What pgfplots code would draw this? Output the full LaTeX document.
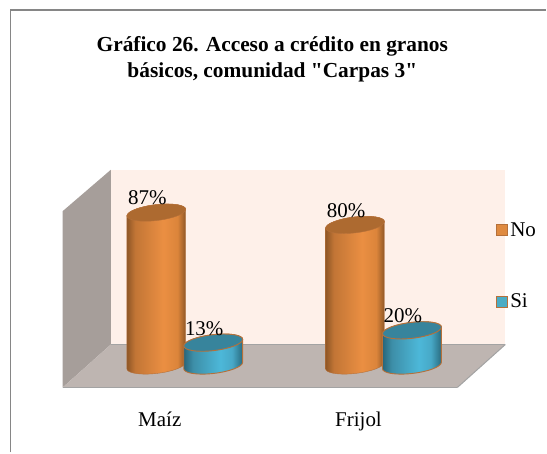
\documentclass[border=0pt]{standalone}
\usepackage{pgfplots}
\pgfplotsset{compat=1.18}
\usepackage{fontspec}
\setmainfont{Liberation Serif}
\newfontfamily\titlefont{Liberation Serif}
\definecolor{wallback}{HTML}{FEF0E9}
\definecolor{wallside}{HTML}{A69E9A}
\definecolor{floorc}{HTML}{BEB5B1}
\definecolor{edgec}{HTML}{A3A3A3}
\definecolor{framec}{HTML}{868686}
\definecolor{brownedge}{HTML}{B5703A}
\definecolor{notop}{HTML}{AD6A30}
\definecolor{sitop}{HTML}{37849C}
\definecolor{sileg}{HTML}{4AACC5}
\definecolor{noleg}{HTML}{DF8A40}
\pgfdeclarehorizontalshading{noshade}{100bp}{rgb(0bp)=(0.56,0.34,0.15);rgb(25bp)=(0.56,0.34,0.15);rgb(32bp)=(0.76,0.46,0.21);rgb(56bp)=(0.92,0.56,0.26);rgb(68bp)=(0.86,0.52,0.23);rgb(75bp)=(0.56,0.34,0.15);rgb(100bp)=(0.56,0.34,0.15)}
\pgfdeclarehorizontalshading{sishade}{100bp}{rgb(0bp)=(0.16,0.40,0.48);rgb(25bp)=(0.16,0.40,0.48);rgb(33bp)=(0.24,0.56,0.66);rgb(56bp)=(0.30,0.72,0.85);rgb(66bp)=(0.28,0.66,0.78);rgb(75bp)=(0.16,0.42,0.50);rgb(100bp)=(0.16,0.42,0.50)}
\newcommand{\cylinder}[4]{%
  % #1 x offset, #2 shading, #3 top colour, #4 outline width
  \pgfmathsetmacro{\cylh}{\cylv*1.76}%
  \pgftransformcm{1}{0.11}{0}{1}{\pgfqpoint{#1pt}{0pt}}%
  \path[draw=brownedge,line width=#4pt,line join=round,shading=#2]
      (-29.5pt,0pt) -- (-29.5pt,-\cylh pt)
      arc[start angle=180,end angle=360,x radius=29.5pt,y radius=8pt]
      -- (29.5pt,0pt)
      arc[start angle=0,end angle=180,x radius=29.5pt,y radius=8pt] -- cycle;
  \path[draw=brownedge,line width=#4pt,fill=#3]
      (0pt,0pt) ellipse[x radius=29.5pt,y radius=8pt];
  }
\pgfdeclareplotmark{cylno}{\cylinder{-3.5}{noshade}{notop}{0.4}}
\pgfdeclareplotmark{cylsi}{\cylinder{53.5}{sishade}{sitop}{0.9}}
\pgfplotstableread{
cat no
0 87
1 80
}\nodata
\pgfplotstableread{
cat si
0 13
1 20
}\sidata
\begin{document}
\begin{tikzpicture}[x=1pt,y=1pt]
  % chart frame, walls and floor (pixel positions, y counted from the bottom)
  \path[fill=white] (0,0) rectangle (547,453);
  \draw[framec,line width=1.5pt] (10.5,0) -- (10.5,443) -- (547,443);
  \fill[wallback] (111,108) rectangle (506,283);
  \fill[wallside] (62.7,65) -- (111,108) -- (111,283) -- (62.7,241.5) -- cycle;
  \fill[floorc] (62.7,65) -- (458,65) -- (506,108) -- (111,108) -- cycle;
  \draw[edgec,line width=1pt] (111,108) -- (506,108);
  \draw[edgec,line width=1pt] (458,65) -- (506,108);
  \draw[edgec,line width=1.6pt] (62.7,65) -- (458,65);
  \begin{axis}[
    at={(0pt,0pt)},anchor=south west,
    scale only axis,width=547pt,height=453pt,
    xmin=-0.80402,xmax=1.94472,
    ymin=-49.432,ymax=207.955,
    clip=false,
    axis line style={draw=none},
    ytick=\empty,
    xtick={0,1},xticklabels={Maíz,Frijol},
    major tick length=0pt,
    xtick style={draw=none},
    xticklabel style={font=\fontsize{21}{25}\selectfont,anchor=center,yshift=30pt,text height=14pt,text depth=5pt},
    title={Gráfico 26. Acceso a crédito en granos\\básicos, comunidad "Carpas 3"},
    title style={at={(0.4985,0.856)},anchor=center,align=center,
      font=\titlefont\fontsize{21.4}{25.5}\selectfont\bfseries},
    legend cell align=left,
    legend style={at={(497pt,232pt)},anchor=north west,draw=none,fill=none,
      font=\fontsize{21}{25}\selectfont,row sep=52pt,inner sep=0pt,outer sep=0pt,
      /tikz/every even column/.append style={column sep=6pt}},
    visualization depends on={rawy \as \cylv},
    point meta=y,
    /pgf/number format/assume math mode=true,
    nodes near coords={\pgfmathprintnumber{\pgfplotspointmeta}\%},
    nodes near coords style={font=\fontsize{21}{25}\selectfont,anchor=center,text=black,xshift=-9pt,yshift=14.5pt},
  ]
    \addplot[scatter,only marks,mark=cylno,
      legend image code/.code={\draw[draw=brownedge,line width=1pt,fill=noleg] (0pt,-5.5pt) rectangle (11pt,5.5pt);}]
      table[x=cat,y=no]{\nodata};
    \addlegendentry{No}
    \addplot[scatter,only marks,mark=cylsi,
      legend image code/.code={\draw[draw=brownedge,line width=1pt,fill=sileg] (0pt,-5.5pt) rectangle (11pt,5.5pt);}]
      table[x=cat,y=si]{\sidata};
    \addlegendentry{Si}
  \end{axis}
\end{tikzpicture}
\end{document}
